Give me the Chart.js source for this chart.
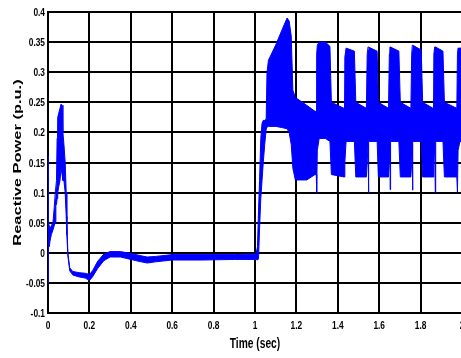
<!DOCTYPE html>
<html><head><meta charset="utf-8">
<script src="https://cdn.jsdelivr.net/npm/chart.js@4.4.1/dist/chart.umd.min.js"></script>
<style>html,body{margin:0;padding:0;background:#fff;overflow:hidden;width:461px;height:358px}
#wrap{width:462px;height:358px;position:relative}</style>
</head><body><div id="wrap"><canvas id="c" width="462" height="358"></canvas></div>
<script>
// time (sec)
const times = [0,0.002,0.006,0.01,0.016,0.024,0.03,0.035,0.038,0.041,0.044,0.047,0.052,0.058,0.063,0.068,0.072,0.077,0.083,0.088,0.091,0.096,0.105,0.12,0.15,0.18,0.2,0.215,0.24,0.27,0.3,0.35,0.4,0.45,0.48,0.52,0.6,0.75,0.9,1.005,1.012,1.017,1.022,1.028,1.034,1.04,1.047,1.054,1.058,1.065,1.1,1.13,1.155,1.165,1.175,1.183,1.195,1.25,1.29,1.296,1.298,1.301,1.31,1.34,1.362,1.369,1.43,1.434,1.44,1.48,1.487,1.538,1.542,1.546,1.548,1.55,1.59,1.596,1.645,1.649,1.652,1.653,1.655,1.695,1.702,1.753,1.757,1.76,1.761,1.763,1.803,1.81,1.86,1.864,1.868,1.871,1.873,1.908,1.915,1.975,1.978,1.981,1.99,2.0];
// upper envelope of reactive power (p.u.)
const upperQ = [0.16,0.05,0.045,0.04,0.045,0.05,0.075,0.1,0.1,0.12,0.19,0.225,0.232,0.24,0.247,0.245,0.2,0.18,0.15,0.1,0.055,0.0,-0.025,-0.031,-0.033,-0.034,-0.036,-0.03,-0.014,-0.002,0.002,0.002,-0.001,-0.005,-0.007,-0.006,-0.003,-0.003,-0.003,-0.002,0.01,0.07,0.12,0.19,0.215,0.22,0.22,0.222,0.3,0.32,0.345,0.37,0.39,0.385,0.36,0.27,0.258,0.245,0.235,0.235,0.33,0.345,0.35,0.35,0.343,0.25,0.24,0.325,0.34,0.335,0.25,0.24,0.33,0.342,0.342,0.342,0.335,0.25,0.24,0.33,0.342,0.342,0.342,0.335,0.25,0.24,0.33,0.345,0.345,0.345,0.337,0.25,0.24,0.33,0.342,0.342,0.342,0.335,0.25,0.24,0.33,0.34,0.34,0.34];
// lower envelope of reactive power (p.u.)
const lowerQ = [-0.05,0.02,0.01,0.02,0.03,0.038,0.045,0.05,0.08,0.08,0.09,0.1,0.11,0.12,0.14,0.13,0.12,0.12,0.1,0.06,0.03,-0.005,-0.03,-0.037,-0.04,-0.042,-0.046,-0.04,-0.026,-0.013,-0.007,-0.007,-0.011,-0.015,-0.017,-0.015,-0.012,-0.012,-0.011,-0.011,-0.012,-0.01,0.04,0.09,0.12,0.15,0.18,0.205,0.209,0.21,0.21,0.208,0.206,0.2,0.18,0.14,0.121,0.121,0.13,0.13,0.1,0.17,0.19,0.19,0.185,0.13,0.126,0.15,0.185,0.185,0.126,0.126,0.15,0.18,0.1,0.185,0.185,0.126,0.126,0.15,0.18,0.105,0.185,0.185,0.126,0.126,0.15,0.18,0.104,0.185,0.185,0.126,0.126,0.15,0.18,0.1,0.185,0.185,0.126,0.126,0.1,0.17,0.185,0.185];
const xTickLabels = ['0','0.2','0.4','0.6','0.8','1','1.2','1.4','1.6','1.8','2'];
const yTickLabels = ['-0.1','-0.05','0','0.05','0.1','0.15','0.2','0.25','0.3','0.35','0.4'];
const xTitle = 'Time (sec)';
const yTitle = 'Reactive Power (p.u.)';

const BLUE = '#0000ff';
const FAM = '"Liberation Sans", Arial, sans-serif';
const upperPts = times.map((t,i)=>({x:t,y:upperQ[i]}));
const lowerPts = times.map((t,i)=>({x:t,y:lowerQ[i]}));

// draws the (horizontally condensed) axis texts of the reference figure
const textPlugin = {
  id:'stretchedText',
  afterDraw(chart){
    const {ctx, scales:{x, y}} = chart;
    ctx.save();
    ctx.fillStyle = '#000';
    ctx.font = 'bold 11px ' + FAM;
    ctx.textAlign = 'right'; ctx.textBaseline = 'alphabetic';
    yTickLabels.forEach(l => {
      const py = y.getPixelForValue(parseFloat(l));
      ctx.save(); ctx.translate(45, py + 4); ctx.scale(0.76, 1); ctx.fillText(l, 0, 0); ctx.restore();
    });
    ctx.textAlign = 'center';
    xTickLabels.forEach(l => {
      const px = x.getPixelForValue(parseFloat(l));
      ctx.save(); ctx.translate(px, 328.6); ctx.scale(0.76, 1); ctx.fillText(l, 0, 0); ctx.restore();
    });
    ctx.font = 'bold 15.4px ' + FAM;
    ctx.save(); ctx.translate((x.left + x.right) / 2, 347.5); ctx.scale(0.665, 1); ctx.fillText(xTitle, 0, 0); ctx.restore();
    ctx.font = 'bold 11.5px ' + FAM;
    ctx.save(); ctx.translate(21, (y.top + y.bottom) / 2); ctx.rotate(-Math.PI / 2); ctx.scale(1.43, 1); ctx.fillText(yTitle, 0, 0); ctx.restore();
    ctx.restore();
  }
};

new Chart(document.getElementById('c'), {
  type:'line',
  data:{datasets:[
    {data:upperPts, borderColor:BLUE, borderWidth:1, pointRadius:0, fill:false, tension:0},
    {data:lowerPts, borderColor:BLUE, borderWidth:1, pointRadius:0, fill:'-1', backgroundColor:BLUE, tension:0}
  ]},
  plugins:[textPlugin],
  options:{
    responsive:false, animation:false, events:[],
    layout:{padding:{top:12,left:0,right:0,bottom:0}},
    plugins:{legend:{display:false}, tooltip:{enabled:false}},
    scales:{
      x:{type:'linear', min:0, max:2,
        afterBuildTicks:s=>{ s.ticks = xTickLabels.map(l=>({value:parseFloat(l)})); },
        afterFit:s=>{ s.height = 45; },
        ticks:{display:false, autoSkip:false},
        grid:{color:'#000', lineWidth:2, drawTicks:false},
        border:{display:true, color:'#000', width:2}
      },
      y:{type:'linear', min:-0.1, max:0.4,
        afterBuildTicks:s=>{ s.ticks = yTickLabels.map(l=>({value:parseFloat(l)})); },
        afterFit:s=>{ s.width = 48; },
        ticks:{display:false, autoSkip:false},
        grid:{color:'#000', lineWidth:2, drawTicks:false},
        border:{display:true, color:'#000', width:2}
      }
    }
  }
});
</script></body></html>
